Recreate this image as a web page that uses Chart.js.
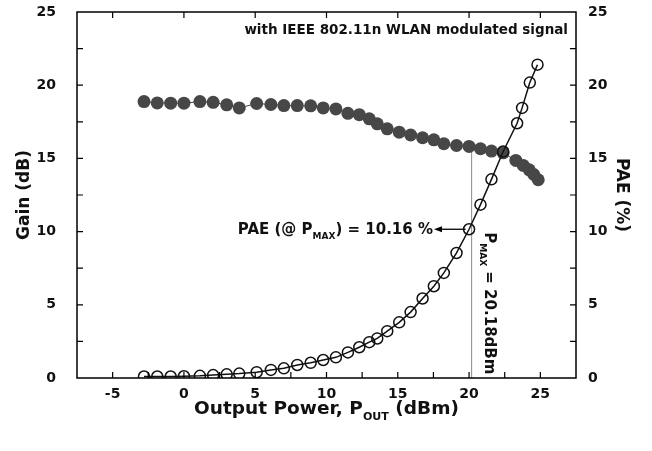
<!DOCTYPE html>
<html>
<head>
<meta charset="utf-8">
<script src="https://cdn.jsdelivr.net/npm/chart.js@4.4.1/dist/chart.umd.min.js"></script>
<style>
  html, body { margin: 0; padding: 0; background: #fff; }
</style>
</head>
<body>
<canvas id="chart" width="652" height="451"></canvas>
<script>
// output power (dBm) and gain (dB), filled dots
const gainPower = [-2.8, -1.87, -0.93, 0, 1.12, 2.05, 3.0, 3.88, 5.1, 6.1, 7.01, 7.95, 8.89, 9.77, 10.66, 11.5, 12.3, 13.0, 13.56, 14.26, 15.1, 15.9, 16.74, 17.53, 18.23, 19.12, 20.0, 20.8, 21.57, 22.39, 23.28, 23.8, 24.22, 24.54, 24.85];
const gainValues = [18.88, 18.79, 18.77, 18.77, 18.88, 18.83, 18.66, 18.45, 18.75, 18.68, 18.61, 18.61, 18.59, 18.45, 18.38, 18.08, 17.99, 17.7, 17.36, 17.02, 16.79, 16.6, 16.41, 16.27, 16.0, 15.88, 15.82, 15.66, 15.5, 15.38, 14.86, 14.52, 14.22, 13.9, 13.54];

// output power (dBm) and PAE (%), open circles
const paePower = [-2.8, -1.87, -0.93, 0, 1.12, 2.05, 3.0, 3.88, 5.1, 6.1, 7.01, 7.95, 8.89, 9.77, 10.66, 11.5, 12.3, 13.0, 13.56, 14.26, 15.1, 15.9, 16.74, 17.53, 18.23, 19.12, 20.0, 20.8, 21.57, 22.39, 23.37, 23.72, 24.26, 24.8];
const paeValues = [0.1, 0.1, 0.1, 0.12, 0.15, 0.2, 0.25, 0.3, 0.4, 0.55, 0.66, 0.89, 1.04, 1.23, 1.41, 1.75, 2.1, 2.45, 2.7, 3.2, 3.8, 4.5, 5.43, 6.27, 7.18, 8.54, 10.16, 11.84, 13.57, 15.47, 17.4, 18.45, 20.18, 21.4];

const xTicks = [-5, 0, 5, 10, 15, 20, 25];
const yTicks = [0, 5, 10, 15, 20, 25];

const pMax = 20.18;
const paeAtPMax = 10.16;
const gainAtPMax = 15.8;

const FONT = '"DejaVu Sans", Verdana, sans-serif';

function drawParts(ctx, parts, x, y, size, align) {
	ctx.save();
	ctx.textBaseline = "alphabetic";
	ctx.textAlign = "left";
	const widths = parts.map(([t, sub]) => {
		ctx.font = "bold " + (sub ? size * 0.6 : size) + "px " + FONT;
		return ctx.measureText(t).width;
	});
	const total = widths.reduce((a, b) => a + b, 0);
	let cx = align === "center" ? x - total / 2 : align === "right" ? x - total : x;
	parts.forEach(([t, sub], i) => {
		ctx.font = "bold " + (sub ? size * 0.6 : size) + "px " + FONT;
		ctx.fillText(t, cx, sub ? y + size * 0.3 : y);
		cx += widths[i];
	});
	ctx.restore();
}

// no extra room for the half labels at the ends of the y axes
function noPad(scale) {
	scale.paddingTop = 0;
	scale.paddingBottom = 0;
}

const framePlugin = {
	id: "frame",
	afterDraw(chart) {
		const ctx = chart.ctx;
		const a = chart.chartArea;
		const sx = chart.scales.x;
		const sy = chart.scales.y;
		const sy1 = chart.scales.y1;
		ctx.save();
		ctx.strokeStyle = "#000";
		ctx.lineWidth = 1.5;
		ctx.strokeRect(a.left, a.top, a.right - a.left, a.bottom - a.top);

		// inward ticks
		ctx.lineWidth = 1.2;
		ctx.beginPath();
		for (let v = -5; v <= 25; v += 2.5) {
			const px = sx.getPixelForValue(v);
			ctx.moveTo(px, a.bottom);
			ctx.lineTo(px, a.bottom - 6);
		}
		xTicks.forEach((v) => {
			const px = sx.getPixelForValue(v);
			ctx.moveTo(px, a.top);
			ctx.lineTo(px, a.top + 6);
		});
		for (let v = 2.5; v < 25; v += 2.5) {
			const pl = sy.getPixelForValue(v);
			ctx.moveTo(a.left, pl);
			ctx.lineTo(a.left + 6, pl);
			const pr = sy1.getPixelForValue(v);
			ctx.moveTo(a.right, pr);
			ctx.lineTo(a.right - 6, pr);
		}
		ctx.stroke();

		// arrow to PAE at PMAX
		const ay = sy1.getPixelForValue(paeAtPMax);
		const ax0 = sx.getPixelForValue(pMax) - 6;
		const ax1 = 434;
		ctx.lineWidth = 1.3;
		ctx.beginPath();
		ctx.moveTo(ax0, ay);
		ctx.lineTo(ax1 + 6, ay);
		ctx.stroke();
		ctx.fillStyle = "#000";
		ctx.beginPath();
		ctx.moveTo(ax1, ay);
		ctx.lineTo(ax1 + 8, ay - 3);
		ctx.lineTo(ax1 + 8, ay + 3);
		ctx.closePath();
		ctx.fill();

		ctx.fillStyle = "#111";
		drawParts(ctx, [["PAE (@ P"], ["MAX", true], [") = 10.16 %"]], ax1 - 1, ay + 5, 15, "right");

		// rotated PMAX label
		ctx.save();
		ctx.translate(sx.getPixelForValue(pMax) + 13, ay + 3);
		ctx.rotate(Math.PI / 2);
		drawParts(ctx, [["P"], ["MAX", true], [" = 20.18dBm"]], 0, 0, 15, "left");
		ctx.restore();

		drawParts(ctx, [["with IEEE 802.11n WLAN modulated signal"]], a.right - 8, 34, 13.5, "right");
		drawParts(ctx, [["Output Power, P"], ["OUT", true], [" (dBm)"]], (a.left + a.right) / 2, 414, 18.5, "center");
		ctx.restore();
	},
};

const ctx = document.getElementById("chart");

new Chart(ctx, {
	type: "scatter",
	data: {
		datasets: [
			{
				label: "PAE",
				data: paePower.map((x, i) => ({ x: x, y: paeValues[i] })),
				yAxisID: "y1",
				showLine: true,
				borderColor: "#111",
				borderWidth: 1.5,
				backgroundColor: "rgba(0,0,0,0)",
				pointRadius: 5.5,
				pointBorderWidth: 1.5,
				pointBorderColor: "#111",
				order: 0,
			},
			{
				label: "Gain",
				data: gainPower.map((x, i) => ({ x: x, y: gainValues[i] })),
				yAxisID: "y",
				showLine: true,
				borderColor: "#444",
				borderWidth: 1,
				backgroundColor: "#474747",
				pointRadius: 6.5,
				pointBorderWidth: 0,
				order: 1,
			},
			{
				label: "PMAX",
				data: [
					{ x: pMax, y: 0 },
					{ x: pMax, y: gainAtPMax },
				],
				yAxisID: "y",
				showLine: true,
				borderColor: "#8a8a8a",
				borderWidth: 1,
				pointRadius: 0,
				order: 2,
			},
		],
	},
	options: {
		responsive: false,
		animation: false,
		layout: { padding: { top: 12, right: 0, left: 0, bottom: 0 } },
		plugins: {
			legend: { display: false },
			tooltip: { enabled: false },
		},
		scales: {
			x: {
				type: "linear",
				min: -7.5,
				max: 27.5,
				afterBuildTicks: (axis) => {
					axis.ticks = xTicks.map((v) => ({ value: v }));
				},
				afterFit: (scale) => {
					scale.height = 73;
					scale.paddingLeft = 0;
					scale.paddingRight = 0;
				},
				grid: { display: false, drawTicks: false },
				border: { display: false },
				ticks: {
					padding: 8,
					color: "#111",
					font: { family: FONT, size: 14, weight: "bold" },
				},
			},
			y: {
				position: "left",
				min: 0,
				max: 25,
				afterBuildTicks: (axis) => {
					axis.ticks = yTicks.map((v) => ({ value: v }));
				},
				afterFit: (scale) => {
					scale.width = 77;
					noPad(scale);
				},
				grid: { display: false, drawTicks: false },
				border: { display: false },
				ticks: {
					padding: 21,
					color: "#111",
					font: { family: FONT, size: 14, weight: "bold" },
				},
				title: {
					display: true,
					text: "Gain (dB)",
					color: "#111",
					padding: { top: 14, bottom: 0 },
					font: { family: FONT, size: 17, weight: "bold" },
				},
			},
			y1: {
				position: "right",
				min: 0,
				max: 25,
				afterBuildTicks: (axis) => {
					axis.ticks = yTicks.map((v) => ({ value: v }));
				},
				afterFit: (scale) => {
					scale.width = 76;
					noPad(scale);
				},
				grid: { display: false, drawTicks: false },
				border: { display: false },
				ticks: {
					padding: 12,
					color: "#111",
					font: { family: FONT, size: 14, weight: "bold" },
				},
				title: {
					display: true,
					text: "PAE (%)",
					color: "#111",
					padding: { top: 20, bottom: 0 },
					font: { family: FONT, size: 17, weight: "bold" },
				},
			},
		},
	},
	plugins: [framePlugin],
});
</script>
</body>
</html>
